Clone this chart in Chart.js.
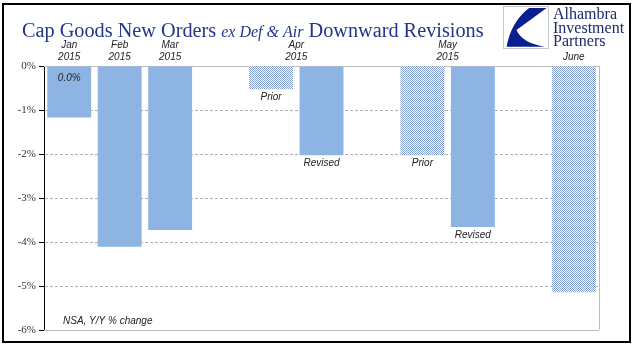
<!DOCTYPE html>
<html><head><meta charset="utf-8">
<style>html,body{margin:0;padding:0;background:#fff}</style>
<script src="https://cdn.jsdelivr.net/npm/chart.js@4/dist/chart.umd.min.js"></script>
</head><body>
<canvas id="c" width="641" height="358"></canvas>
<script>
// ---- data ----
const categories = ['Jan 2015','Feb 2015','Mar 2015','','Apr 2015 Prior','Apr 2015 Revised','','May 2015 Prior','May 2015 Revised','','June'];
const solidValues   = [-1.17, -4.11, -3.73, null, null, -2.03, null, null, -3.66, null, null];
const patternValues = [null, null, null, null, -0.53, null, null, -2.03, null, null, -5.14];
const barLabels = ['0.0%', '', '', '', 'Prior', 'Revised', '', 'Prior', 'Revised', '', ''];
const topLabels = [['Jan','2015'],['Feb','2015'],['Mar','2015'],['Apr','2015'],['May','2015'],['June']];
const topLabelIdx = [[0],[1],[2],[4,5],[7,8],[10]];
const yMin = -6, yMax = 0, yStep = 1;
const titleParts = [['Cap Goods New Orders ', false], ['ex Def & Air', true], [' Downward Revisions', false]];
const logoLines = ['Alhambra','Investment','Partners'];
const noteText = 'NSA, Y/Y % change';

// ---- pattern ----
const pc = document.createElement('canvas'); pc.width = 2; pc.height = 2;
const px = pc.getContext('2d');
px.fillStyle = '#ffffff'; px.fillRect(0,0,2,2);
px.fillStyle = '#7f9fd0'; px.fillRect(0,0,1,1); px.fillRect(1,1,1,1);
const ctx = document.getElementById('c').getContext('2d');
const pattern = ctx.createPattern(pc, 'repeat');

const navy = '#22368a';
const sans = '"Liberation Sans", Arial, sans-serif';
const serif = '"Liberation Serif", "Times New Roman", serif';

const deco = {
  id: 'deco',
  beforeDatasetsDraw(chart) {
    const c = chart.ctx, a = chart.chartArea;
    c.save();
    c.strokeStyle = '#bdbdbd'; c.lineWidth = 1;
    c.beginPath();
    c.moveTo(a.left, Math.round(a.top) + 0.5); c.lineTo(a.right, Math.round(a.top) + 0.5);
    c.moveTo(a.left, Math.round(a.bottom) + 0.5); c.lineTo(a.right, Math.round(a.bottom) + 0.5);
    c.moveTo(Math.round(a.right) + 0.5, a.top); c.lineTo(Math.round(a.right) + 0.5, a.bottom);
    c.stroke();
    c.restore();
  },
  afterDraw(chart) {
    const c = chart.ctx, a = chart.chartArea, xs = chart.scales.x;
    c.save();
    // outer frame
    c.strokeStyle = '#000'; c.lineWidth = 2;
    c.strokeRect(3, 4, 627, 338);
    // title
    const target = 462; let base = 24;
    const fontFor = (it, s) => (it ? 'italic ' + Math.round(s*0.78) : '' + s) + 'px ' + serif;
    const measure = s => titleParts.reduce((w,p) => { c.font = fontFor(p[1], s); return w + c.measureText(p[0]).width; }, 0);
    const s = base * target / measure(base);
    let tx = 22;
    c.fillStyle = navy; c.textBaseline = 'alphabetic'; c.textAlign = 'left';
    titleParts.forEach(p => { c.font = fontFor(p[1], s); c.fillText(p[0], tx, 37); tx += c.measureText(p[0]).width; });
    // logo
    const lx = 503, ly = 6, lw = 45, lh = 42;
    c.strokeStyle = '#c8c8c8'; c.lineWidth = 1;
    c.strokeRect(lx + 0.5, ly + 0.5, lw, lh);
    c.fillStyle = '#0a1f8f';
    const P = (u, v) => [lx + u*lw, ly + v*lh];
    c.beginPath();
    c.moveTo(...P(0.58, 0.05));
    c.lineTo(...P(0.97, 0.05));
    c.lineTo(...P(0.30, 0.57));
    c.quadraticCurveTo(...P(0.42, 0.88), ...P(0.94, 0.97));
    c.lineTo(...P(0.08, 0.97));
    c.quadraticCurveTo(...P(0.18, 0.38), ...P(0.58, 0.05));
    c.closePath(); c.fill();
    c.fillStyle = '#1a2a6c'; c.font = '16px ' + serif;
    logoLines.forEach((t, i) => c.fillText(t, 553, 19 + i*13.5));
    // top category labels
    c.fillStyle = '#222'; c.font = 'italic 10px ' + sans; c.textAlign = 'center'; c.textBaseline = 'middle';
    topLabels.forEach((lines, k) => {
      const idx = topLabelIdx[k];
      const cx = idx.reduce((sum, i) => sum + xs.getPixelForValue(i), 0) / idx.length;
      const rows = lines.length === 1 ? [57] : [45, 57];
      lines.forEach((t, j) => c.fillText(t, cx, rows[j]));
    });
    // bar labels
    [0, 1].forEach(d => {
      const meta = chart.getDatasetMeta(d);
      const vals = chart.data.datasets[d].data;
      meta.data.forEach((el, i) => {
        if (vals[i] == null || !barLabels[i]) return;
        if (i === 0) c.fillText(barLabels[i], el.x, el.base + 12);
        else c.fillText(barLabels[i], el.x, el.y + 8);
      });
    });
    // note
    c.textAlign = 'left';
    c.fillText(noteText, 63, 321);
    c.restore();
  }
};

new Chart(ctx, {
  type: 'bar',
  data: {
    labels: categories,
    datasets: [
      { data: solidValues, backgroundColor: '#8DB4E2', borderWidth: 0 },
      { data: patternValues, backgroundColor: pattern, borderWidth: 0 }
    ]
  },
  options: {
    responsive: false, animation: false,
    layout: { padding: { left: 0, top: 66, right: 42, bottom: 28 } },
    datasets: { bar: { categoryPercentage: 1, barPercentage: 0.87 } },
    plugins: { legend: { display: false }, tooltip: { enabled: false } },
    scales: {
      x: { display: false, stacked: true },
      y: {
        stacked: true, min: yMin, max: yMax,
        afterFit(scale) { scale.width = 44; },
        ticks: { stepSize: yStep, color: '#333', padding: 3, font: { family: serif, size: 11 },
                 callback: v => v + '%' },
        grid: { color: '#b0b0b0', tickColor: '#000', tickLength: 5, drawTicks: true },
        border: { display: true, color: '#000', width: 1, dash: [3, 2] }
      }
    }
  },
  plugins: [deco]
});
</script>
</body></html>
